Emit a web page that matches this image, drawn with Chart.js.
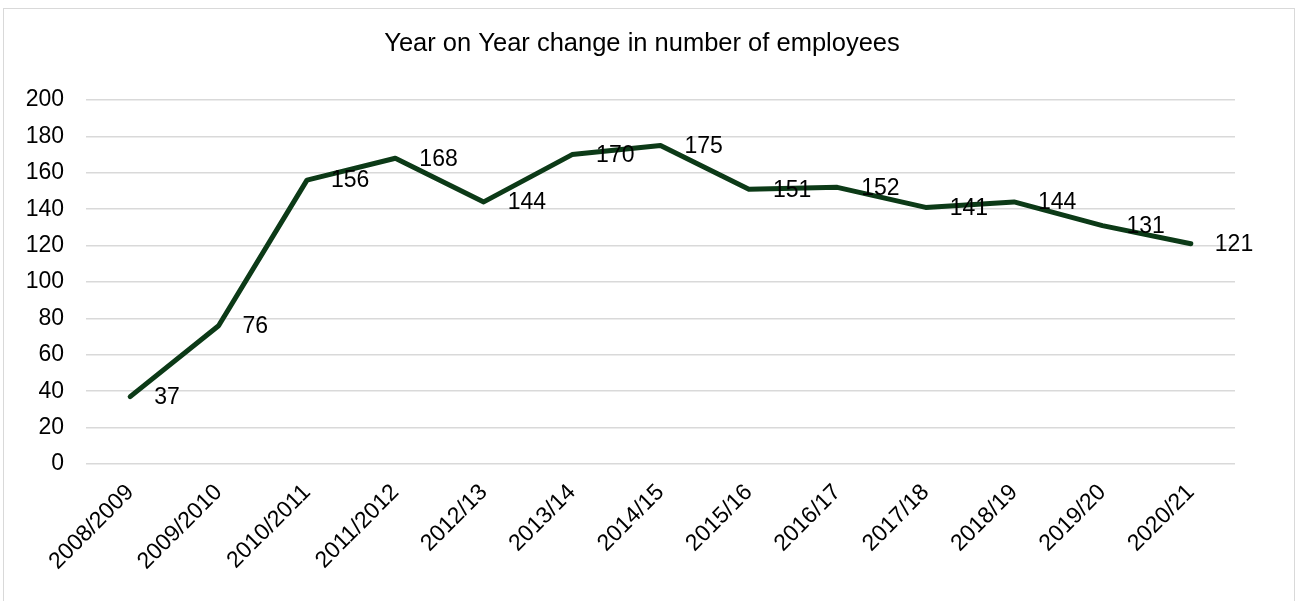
<!DOCTYPE html>
<html>
<head>
<meta charset="utf-8">
<script src="https://cdn.jsdelivr.net/npm/chart.js@4/dist/chart.umd.min.js"></script>
<style>
  body { margin: 0; background: #fff; }
  #wrap { position: relative; width: 1296px; height: 601px; overflow: hidden; }
  #frame { position: absolute; left: 3px; top: 8px; width: 1290px; height: 620px; border: 1px solid #d9d9d9; pointer-events: none; }
</style>
</head>
<body>
<div id="wrap">
  <canvas id="my-chart" width="1296" height="601"></canvas>
  <div id="frame"></div>
</div>
<script>
var chartTitle = 'Year on Year change in number of employees';
var years = ['2008/2009', '2009/2010', '2010/2011', '2011/2012', '2012/13', '2013/14', '2014/15',
             '2015/16', '2016/17', '2017/18', '2018/19', '2019/20', '2020/21'];
var employees = [37, 76, 156, 168, 144, 170, 175, 151, 152, 141, 144, 131, 121];
var yTicks = [0, 20, 40, 60, 80, 100, 120, 140, 160, 180, 200];

var fontFamily = '"Liberation Sans", Arial, sans-serif';

// title is centred on the whole frame, not on the plot area, so draw it by hand
var frameTitle = {
    id: 'frameTitle',
    afterDraw(chart) {
        var c = chart.ctx;
        c.save();
        c.font = '25.5px ' + fontFamily;
        c.fillStyle = '#000';
        c.textAlign = 'center';
        c.textBaseline = 'middle';
        c.fillText(chartTitle, 642, 44);
        c.restore();
    }
};

// labels drawn to the right of each point, like Excel's "Right" position
var pointLabels = {
    id: 'pointLabels',
    afterDatasetsDraw(chart) {
        var c = chart.ctx;
        var meta = chart.getDatasetMeta(0);
        c.save();
        c.font = '23px ' + fontFamily;
        c.fillStyle = '#000';
        c.textAlign = 'left';
        c.textBaseline = 'middle';
        meta.data.forEach(function (pt, i) {
            c.fillText(String(chart.data.datasets[0].data[i]), pt.x + 24, pt.y + 1);
        });
        c.restore();
    }
};

var ctx = document.getElementById('my-chart').getContext('2d');
new Chart(ctx, {
    type: 'line',
    data: {
        labels: years,
        datasets: [{
            label: 'Employees',
            data: employees,
            borderColor: '#0c3a17',
            backgroundColor: '#0c3a17',
            borderWidth: 5,
            borderJoinStyle: 'round',
            borderCapStyle: 'round',
            pointRadius: 0,
            tension: 0
        }]
    },
    options: {
        responsive: false,
        animation: false,
        layout: { padding: { left: 0, right: 61, top: 100, bottom: 0 } },
        plugins: {
            legend: { display: false },
            tooltip: { enabled: false },
            title: { display: false }
        },
        scales: {
            x: {
                offset: true,
                grid: { display: false, drawTicks: false },
                border: { display: false },
                ticks: {
                    color: '#000',
                    font: { family: fontFamily, size: 23 },
                    minRotation: 45,
                    maxRotation: 45,
                    autoSkip: false,
                    padding: 15
                },
                afterFit: function (s) { s.height = 137; }
            },
            y: {
                min: 0,
                max: 200,
                afterBuildTicks: function (s) { s.ticks = yTicks.map(function (v) { return { value: v }; }); },
                grid: { color: '#d9d9d9', lineWidth: 1.5, drawTicks: false },
                border: { display: false },
                ticks: {
                    color: '#000',
                    font: { family: fontFamily, size: 23, lineHeight: 1 },
                    padding: 22,
                    autoSkip: false
                },
                afterFit: function (s) { s.width = 86; }
            }
        }
    },
    plugins: [pointLabels, frameTitle]
});
</script>
</body>
</html>
